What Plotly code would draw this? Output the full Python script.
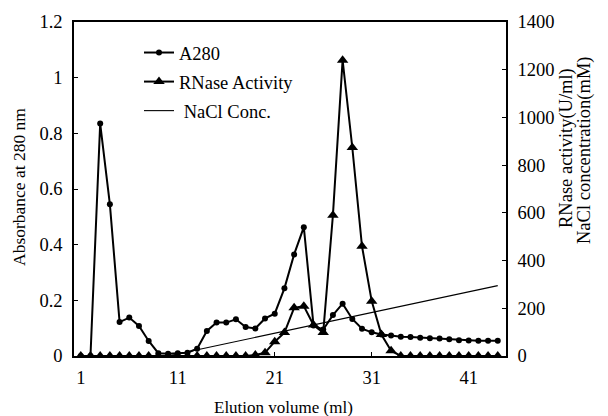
import plotly.graph_objects as go

# ---- data ----
elution_ml = list(range(1, 45))
a280 = [0, 0, 0.835, 0.545, 0.122, 0.138, 0.108, 0.054, 0.01, 0.008,
        0.01, 0.012, 0.026, 0.09, 0.12, 0.12, 0.132, 0.104, 0.099, 0.135,
        0.152, 0.243, 0.365, 0.463, 0.11, 0.095, 0.147, 0.188, 0.133, 0.098,
        0.085, 0.077, 0.074, 0.069, 0.068, 0.066, 0.064, 0.063, 0.06, 0.057,
        0.056, 0.055, 0.055, 0.055]
rnase = [0, 0, 0, 0, 0, 0, 0, 0, 0, 0,
         0, 0, 0, 0, 0, 0, 0, 0, 4, 14,
         60, 98, 202, 209, 130, 98, 590, 1240, 874, 460,
         230, 90, 22, 0, 0, 0, 0, 0, 0, 0,
         0, 0, 0, 0]
nacl_x = [10, 44]
nacl = [0, 295]

x_ticks = [1, 11, 21, 31, 41]
y1_ticks = [0, 0.2, 0.4, 0.6, 0.8, 1, 1.2]
y2_ticks = [0, 200, 400, 600, 800, 1000, 1200, 1400]

FONT = "Liberation Serif, Times New Roman, serif"

# plot area in px
L, R, T, B = 74, 506, 22, 356
W, H = 608, 416
PW, PH = R - L, B - T


def px(xp):
    return (xp - L) / PW


def py(yp):
    return (B - yp) / PH


fig = go.Figure()
fig.add_trace(go.Scatter(
    x=elution_ml, y=a280, name="A280", mode="lines+markers",
    line=dict(color="black", width=2),
    marker=dict(symbol="circle", size=6, color="black"),
    legendgroup="a", yaxis="y"))
fig.add_trace(go.Scatter(
    x=elution_ml, y=rnase, name="RNase Activity", mode="lines+markers",
    line=dict(color="black", width=2),
    marker=dict(symbol="triangle-up", size=10, color="black"),
    legendgroup="b", yaxis="y2"))
fig.add_trace(go.Scatter(
    x=nacl_x, y=nacl, name=" NaCl Conc.", mode="lines",
    line=dict(color="black", width=1.1),
    legendgroup="c", yaxis="y2"))

axis_common = dict(showline=True, linecolor="black", linewidth=1.5,
                   showgrid=False, zeroline=False, ticks="inside",
                   ticklen=4, tickcolor="black",
                   tickfont=dict(family=FONT, size=18.5, color="black"))

fig.update_layout(
    width=W, height=H,
    margin=dict(l=L, r=W - R, t=T, b=H - B),
    paper_bgcolor="white", plot_bgcolor="white",
    font=dict(family=FONT, size=17, color="black"),
    xaxis=dict(range=[0.3, 44.85], tickvals=x_ticks,
               ticktext=[str(v) for v in x_ticks], mirror=True,
               ticklabelstandoff=4, **axis_common),
    yaxis=dict(range=[0, 1.2], tickvals=y1_ticks,
               ticktext=["0", "0.2", "0.4", "0.6", "0.8", "1", "1.2"],
               ticklabelstandoff=6, **axis_common),
    yaxis2=dict(range=[0, 1400], tickvals=y2_ticks,
                ticktext=[str(v) for v in y2_ticks],
                overlaying="y", side="right", ticklabelstandoff=6,
                **axis_common),
    showlegend=True,
    legend=dict(x=px(139), y=py(34), xanchor="left", yanchor="top",
                bgcolor="rgba(0,0,0,0)", borderwidth=0,
                font=dict(family=FONT, size=18.5, color="black"),
                tracegroupgap=2, itemwidth=30),
    annotations=[
        dict(text="Absorbance at 280 nm", textangle=-90, x=px(19), y=py(187),
             xanchor="center", yanchor="middle",
             xref="paper", yref="paper", showarrow=False,
             font=dict(family=FONT, size=17.5)),
        dict(text="Elution volume (ml)", x=px(283), y=py(407),
             xanchor="center", yanchor="middle",
             xref="paper", yref="paper", showarrow=False,
             font=dict(family=FONT, size=17)),
        dict(text="RNase activity(U/ml)", textangle=-90, x=px(566), y=py(148),
             xanchor="center", yanchor="middle",
             xref="paper", yref="paper", showarrow=False,
             font=dict(family=FONT, size=18.5)),
        dict(text="NaCl concentration(mM)", textangle=-90, x=px(584), y=py(150),
             xanchor="center", yanchor="middle",
             xref="paper", yref="paper", showarrow=False,
             font=dict(family=FONT, size=18.5)),
    ],
)

fig.write_html("out.html")
